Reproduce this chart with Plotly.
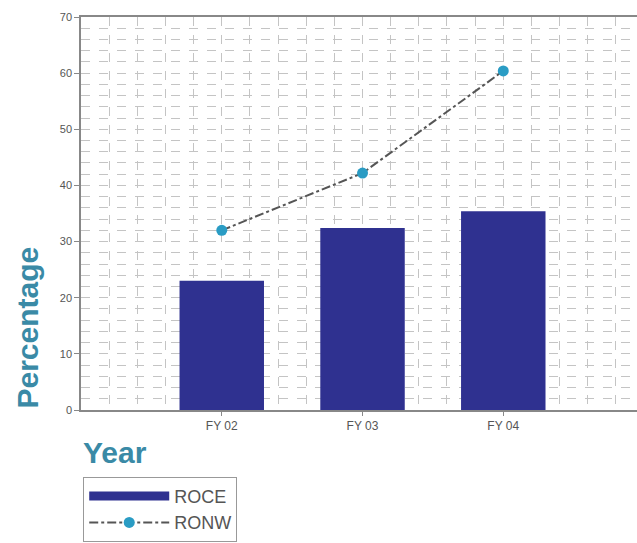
import plotly.graph_objects as go

years = ["FY 02", "FY 03", "FY 04"]
year_pos = [1, 2, 3]
roce = [23.0, 32.4, 35.4]
ronw = [32.0, 42.2, 60.4]
y_ticks = [0, 10, 20, 30, 40, 50, 60, 70]

bar_col = "#2f3190"
fig = go.Figure()
fig.add_trace(go.Bar(
    x=year_pos, y=roce, name="ROCE", width=0.6, showlegend=False,
    legendgroup="roce",
    marker=dict(color=bar_col, line=dict(width=0)),
))
# legend swatch for ROCE (wide rectangle like the original)
fig.add_trace(go.Scatter(
    x=[None], y=[None], name="ROCE", mode="lines", legendgroup="roce",
    line=dict(color=bar_col, width=9),
))
fig.add_trace(go.Scatter(
    x=year_pos, y=ronw, name="RONW", mode="lines+markers",
    line=dict(color="#555555", width=2, dash="dashdot"),
    marker=dict(color="#2a9cc4", size=11),
))

grid_col = "#c4c4c4"
fig.update_layout(
    width=637, height=543,
    margin=dict(l=81, r=0, t=17, b=133),
    paper_bgcolor="white", plot_bgcolor="white",
    font=dict(family="Liberation Sans, Arial, sans-serif", color="#555555", size=11),
    showlegend=True,
    legend=dict(
        x=0.004, y=-0.17, xanchor="left", yanchor="top",
        bordercolor="#999999", borderwidth=1, bgcolor="white",
        font=dict(size=18, color="#555555"),
        itemwidth=80, tracegroupgap=0,
    ),
    xaxis=dict(
        range=[0, 3.95], tickvals=year_pos, ticktext=years,
        showline=True, linecolor="#888888", linewidth=1.5, mirror=True,
        ticks="outside", ticklen=4, tickcolor="#888888",
        showgrid=True, gridcolor=grid_col, griddash="dash", gridwidth=1,
        minor=dict(dtick=0.2, tick0=0, showgrid=True, gridcolor=grid_col,
                   griddash="dash", gridwidth=1),
        zeroline=False, tickfont=dict(size=12, color="#555555"),
    ),
    yaxis=dict(
        range=[0, 70], tickvals=y_ticks,
        showline=True, linecolor="#888888", linewidth=1.5,
        ticks="outside", ticklen=5, tickcolor="#888888",
        showgrid=True, gridcolor=grid_col, griddash="dash", gridwidth=1,
        minor=dict(dtick=2, showgrid=True, gridcolor=grid_col,
                   griddash="dash", gridwidth=1),
        zeroline=False, tickfont=dict(size=11, color="#555555"),
    ),
    annotations=[
        dict(
            text="<b>Year</b>", x=0, y=-0.062, xref="paper", yref="paper",
            xanchor="left", yanchor="top", showarrow=False,
            font=dict(size=30, color="#3a8aa6"),
        ),
        dict(
            text="<b>Percentage</b>", x=-0.097, y=0.21, xref="paper", yref="paper",
            xanchor="center", yanchor="middle", showarrow=False, textangle=-90,
            font=dict(size=30, color="#3a8aa6"),
        ),
    ],
)

fig.write_html("out.html")
